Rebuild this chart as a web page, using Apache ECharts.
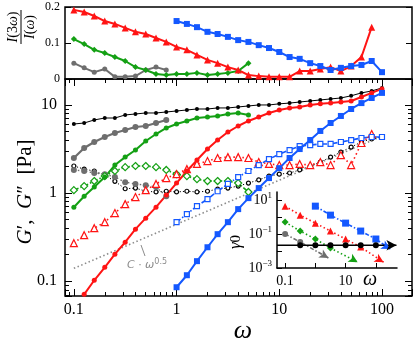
<!DOCTYPE html>
<html>
<head>
<meta charset="utf-8">
<script src="https://cdn.jsdelivr.net/npm/echarts@6/dist/echarts.min.js"></script>
<style>
  html, body { margin: 0; padding: 0; background: #fff; }
  #chart { width: 415px; height: 344px; }
</style>
</head>
<body>
<div id="chart"></div>
<script>
// frequency grid (0.1 decade steps)
const omega = [0.1, 0.126, 0.158, 0.2, 0.251, 0.316, 0.398, 0.501, 0.631, 0.794,
  1, 1.26, 1.58, 2, 2.51, 3.16, 3.98, 5.01, 6.31, 7.94,
  10, 12.6, 15.8, 20, 25.1, 31.6, 39.8, 50.1, 63.1, 79.4, 100];

// G' (storage modulus), solid lines
const blackGp = [6.08, 6.24, 6.76, 7.11, 7.11, 7.70, 7.90, 8.11, 8.11, 8.32, 8.54, 8.77, 9.0, 9.0, 9.25, 9.25,
  9.49, 9.74, 10.0, 10.0, 10.3, 10.5, 10.8, 11.1, 11.4, 11.7, 12.0, 12.7, 13.7, 14.4, 15.6];
const grayGp = [2.5, 3.25, 3.8, 4.33, 4.8, 5.2, 5.62, 5.77, 6.24, 6.76];
const greenGp = [0.69, 0.92, 1.17, 1.52, 2.08, 2.56, 3.08, 3.9, 4.68, 5.48, 6.08, 6.58, 7.11, 7.3, 7.5, 7.9, 8.1, 7.7];
const redGp = [0.0711, 0.1026, 0.144, 0.203, 0.277, 0.39, 0.52, 0.693, 0.95, 1.30, 1.78, 2.37, 3.16, 4.0, 4.93,
  5.77, 6.58, 7.3, 8.11, 8.77, 9.25, 9.49, 10, 10.3, 10.5, 10.8, 11.1, 12.3, 13.7, 15.2];
const blueGp = [0.0855, 0.117, 0.169, 0.243, 0.342, 0.468, 0.658, 0.877, 1.14, 1.48, 1.92, 2.5, 3.16, 4.0, 5.07,
  6.24, 7.5, 9.0, 10.5, 12.0, 13.7];

// G'' (loss modulus), dotted lines
const blackGpp = [2.03, 1.87, 1.78, 1.60, 1.36, 1.12, 1.14, 1.05, 1.03, 1.05, 1.03, 1.05, 1.03, 1.05, 1.11, 1.14,
  1.20, 1.30, 1.41, 1.56, 1.64, 1.69, 1.83, 2.03, 2.25, 2.56, 2.92, 3.33, 3.80, 4.11, 4.33];
const grayGpp = [1.83, 1.78, 1.69, 1.64, 1.52, 1.33, 1.27, 1.23, 1.17, 0.92];
const greenGpp = [1.08, 1.20, 1.37, 1.56, 1.78, 1.97, 2.03, 2.03, 1.97, 1.83, 1.64, 1.56, 1.44, 1.37, 1.37, 1.37, 1.30, 1.03];
const redGpp = [0.270, 0.333, 0.400, 0.468, 0.593, 0.750, 0.901, 1.08, 1.27, 1.48, 1.64, 1.87, 2.14, 2.31, 2.50,
  2.56, 2.56, 2.50, 2.25, 2.14, 2.08, 2.08, 2.14, 2.08, 2.25, 2.08, 2.70, 2.08, 3.70, 4.68];
const blueGpp = [0.468, 0.577, 0.712, 0.855, 1.05, 1.27, 1.52, 1.78, 2.08, 2.43, 2.77, 3.08, 3.42, 3.51, 3.61,
  3.61, 3.80, 4.0, 4.22, 4.33, 4.33];

// reference line C * omega^0.5 (end points)
const refOmega = [0.1, 100];
const refG = [0.14, 4.43];

// top panel: I(3w)/I(w)
const redRatio = [0.192, 0.186, 0.175, 0.161, 0.153, 0.142, 0.131, 0.125, 0.114, 0.103, 0.089, 0.081, 0.067, 0.053,
  0.044, 0.033, 0.025, 0.011, 0.008, 0.006, 0.006, 0.006, 0.022, 0.022, 0.028, 0.033, 0.022, 0.036, 0.061, 0.144];
const greenRatio = [0.111, 0.097, 0.081, 0.072, 0.061, 0.050, 0.033, 0.025, 0.014, 0.011, 0.014, 0.014, 0.017,
  0.011, 0.014, 0.017, 0.022, 0.044];
const grayRatio = [0.044, 0.031, 0.019, 0.028, 0.006, 0.006, 0.008, 0.025, 0.033, 0.025];
const blueRatio = [0.161, 0.153, 0.144, 0.131, 0.125, 0.117, 0.108, 0.103, 0.094, 0.086, 0.075, 0.061, 0.056,
  0.044, 0.036, 0.025, 0.031, 0.036, 0.039, 0.050, 0.019];

// inset: gamma_0 vs omega
const insetOmega = [0.1, 0.316, 1, 3.16, 10, 31.6, 100];
const redGamma = [4.4, 1.3, 0.44, 0.15, 0.051, 0.017];
const redArrow = [180, 0.0022];
const blueGamma = [4.4, 1.3, 0.44, 0.15, 0.051];
const blueArrow = [300, 0.013];
const greenGamma = [0.51, 0.15, 0.051, 0.015];
const greenArrow = [25, 0.0022];
const grayGamma = [0.1, 0.034];
const grayArrow = [2.7, 0.0039];
const blackGamma = [0.022, 0.022, 0.022, 0.022, 0.022, 0.022];
const blackLineEnds = [[0.054, 0.022], [480, 0.022]];

const SERIF = 'Liberation Serif';
const RED = '#ff1414', BLUE = '#1458ff', GREEN = '#14a014', GRAY = '#6e6e6e', REF = '#8c8c8c';

const pts = (xs, ys) => ys.map((y, i) => [xs[i], y]);

function solid(ax, xs, ys, color, symbol, size, width) {
  return {
    type: 'line', xAxisIndex: ax, yAxisIndex: ax, data: pts(xs, ys),
    symbol: symbol, symbolSize: size, showSymbol: true,
    lineStyle: { color: color, width: width }, itemStyle: { color: color }
  };
}
function open(xs, ys, color, symbol, size, dash, width) {
  return {
    type: 'line', xAxisIndex: 1, yAxisIndex: 1, data: pts(xs, ys),
    symbol: symbol, symbolSize: size, showSymbol: true,
    lineStyle: { color: color, width: width || 1.6, type: dash },
    itemStyle: { color: '#fff', borderColor: color, borderWidth: 1.2 }
  };
}
function inset(xs, ys, tip, color, symbol, size, dash) {
  const data = pts(xs, ys);
  data.push({ value: tip, symbol: 'arrow', symbolSize: [7, 9], symbolRotate: -120 });
  return {
    type: 'line', xAxisIndex: 2, yAxisIndex: 2, data: data, clip: false,
    symbol: symbol, symbolSize: size, showSymbol: true,
    lineStyle: { color: color, width: 1.6, type: dash }, itemStyle: { color: color }
  };
}

const tick = { inside: true, length: 7, lineStyle: { color: '#000', width: 1 } };
const minor = { show: true, splitNumber: 9, length: 4, lineStyle: { color: '#000', width: 1 } };
function logAxis(o) {
  return Object.assign({
    type: 'log', logBase: 10, splitLine: { show: false }, minorSplitLine: { show: false },
    axisLine: { show: false }, axisTick: tick, minorTick: minor, axisLabel: { show: false }
  }, o);
}
const mainLabel = { show: true, color: '#000', fontFamily: SERIF, fontSize: 16, showMinLabel: false, showMaxLabel: false };
const expOf = v => Math.round(Math.log10(v));

const chart = echarts.init(document.getElementById('chart'), null, { renderer: 'canvas' });

const option = {
  animation: false,
  backgroundColor: '#fff',
  grid: [
    { left: 65, top: 7, width: 347, height: 72, show: true, borderColor: '#000', borderWidth: 1.5, backgroundColor: 'transparent' },
    { left: 65, top: 79, width: 347, height: 217, show: true, borderColor: '#000', borderWidth: 1.5, backgroundColor: 'transparent' },
    { left: 277, top: 192, width: 120, height: 76 }
  ],
  xAxis: [
    logAxis({ gridIndex: 0, position: 'top', min: 0.082, max: 196 }),
    logAxis({ gridIndex: 1, position: 'bottom', min: 0.082, max: 196, axisLabel: Object.assign({ margin: 6 }, mainLabel) }),
    logAxis({
      gridIndex: 2, position: 'bottom', min: 0.054, max: 500,
      axisLine: { show: true, lineStyle: { color: '#000', width: 1.5 } },
      axisTick: { inside: true, length: 5, lineStyle: { color: '#000' } }, minorTick: { show: false },
      axisLabel: {
        show: true, color: '#000', fontFamily: SERIF, fontSize: 14, margin: 6, showMinLabel: false, showMaxLabel: false,
        formatter: v => (Math.abs(expOf(v)) % 2 === 1 ? String(v) : '')
      }
    })
  ],
  yAxis: [
    {
      type: 'value', gridIndex: 0, position: 'left', min: 0, max: 0.2, interval: 0.1,
      splitLine: { show: false }, axisLine: { show: false },
      axisTick: { inside: true, length: 6, lineStyle: { color: '#000' } },
      axisLabel: { color: '#000', fontFamily: SERIF, fontSize: 12, margin: 5 }
    },
    logAxis({ gridIndex: 1, position: 'left', min: 0.068, max: 19.7, axisLabel: Object.assign({ margin: 8 }, mainLabel) }),
    logAxis({
      gridIndex: 2, position: 'left', min: 0.001, max: 30,
      axisLine: { show: true, lineStyle: { color: '#000', width: 1.5 } },
      axisTick: { inside: true, length: 5, lineStyle: { color: '#000' } }, minorTick: { show: false },
      axisLabel: {
        show: true, color: '#000', fontFamily: SERIF, margin: 5, showMinLabel: true, showMaxLabel: false,
        formatter: v => {
          const e = expOf(v);
          return Math.abs(e) % 2 === 1 ? '{b|10}{s|' + (e < 0 ? '\u2212' : '') + Math.abs(e) + '}' : '';
        },
        rich: {
          b: { fontFamily: SERIF, fontSize: 14, lineHeight: 18 },
          s: { fontFamily: SERIF, fontSize: 9, lineHeight: 10, verticalAlign: 'top' }
        }
      }
    }),
    {
      type: 'value', gridIndex: 0, position: 'right', min: 0, max: 0.2, interval: 0.1,
      splitLine: { show: false }, axisLine: { show: false },
      axisTick: { inside: true, length: 6, lineStyle: { color: '#000' } }, axisLabel: { show: false }
    },
    logAxis({ gridIndex: 1, position: 'right', min: 0.068, max: 19.7 })
  ],
  series: [
    // top panel
    solid(0, omega.slice(0, 10), grayRatio, GRAY, 'circle', 5, 2),
    solid(0, omega.slice(0, 18), greenRatio, GREEN, 'diamond', 6, 2),
    solid(0, omega.slice(0, 30), redRatio, RED, 'triangle', 7, 2),
    solid(0, omega.slice(10, 31), blueRatio, BLUE, 'rect', 6, 2),

    // main panel, reference line
    {
      type: 'line', xAxisIndex: 1, yAxisIndex: 1, data: pts(refOmega, refG), symbol: 'none',
      lineStyle: { color: REF, width: 1.6, type: [1.5, 2.5] }
    },
    // G''
    open(omega, blackGpp, '#000', 'circle', 4, [1.2, 2], 1),
    {
      type: 'line', xAxisIndex: 1, yAxisIndex: 1, data: pts(omega.slice(0, 10), grayGpp),
      symbol: 'circle', symbolSize: 6, lineStyle: { color: GRAY, width: 1.4, type: [1.5, 2.5] }, itemStyle: { color: GRAY }
    },
    open(omega.slice(0, 18), greenGpp, GREEN, 'diamond', 7, [5, 2, 1.5, 2]),
    open(omega.slice(0, 30), redGpp, RED, 'triangle', 7, [1.5, 3]),
    open(omega.slice(10, 31), blueGpp, BLUE, 'rect', 5, [5, 2, 1.5, 2]),
    // G'
    solid(1, omega, blackGp, '#000', 'circle', 4, 1),
    solid(1, omega.slice(0, 10), grayGp, GRAY, 'circle', 6, 2.2),
    solid(1, omega.slice(0, 18), greenGp, GREEN, 'circle', 5, 2),
    solid(1, omega.slice(1, 31), redGp, RED, 'circle', 5, 2),
    solid(1, omega.slice(10, 31), blueGp, BLUE, 'rect', 6, 2),

    // inset
    inset(insetOmega.slice(0, 2), grayGamma, grayArrow, GRAY, 'circle', 6, [4, 2, 1.5, 2]),
    inset(insetOmega.slice(0, 4), greenGamma, greenArrow, GREEN, 'diamond', 7, [1.5, 2.5]),
    inset(insetOmega.slice(0, 6), redGamma, redArrow, RED, 'triangle', 7, [1.5, 2.5]),
    inset(insetOmega.slice(2, 7), blueGamma, blueArrow, BLUE, 'rect', 7, [4, 2, 1.5, 2]),
    {
      type: 'line', xAxisIndex: 2, yAxisIndex: 2, clip: false, symbol: 'circle', symbolSize: 6,
      data: [{ value: blackLineEnds[0], symbol: 'none' }]
        .concat(pts(insetOmega.slice(1, 7), blackGamma))
        .concat([{ value: blackLineEnds[1], symbol: 'arrow', symbolSize: [8, 10], symbolRotate: -90 }]),
      lineStyle: { color: '#000', width: 1.6 }, itemStyle: { color: '#000' }
    }
  ],
  graphic: [
    {
      type: 'text', x: 25, y: 192, rotation: Math.PI / 2,
      style: {
        text: '{i|G}\u2032,  {i|G}\u2033  [Pa]', fill: '#000', fontFamily: SERIF, fontSize: 21,
        align: 'center', verticalAlign: 'middle', textAlign: 'center', textVerticalAlign: 'middle',
        rich: { i: { fontStyle: 'italic', fontFamily: SERIF, fontSize: 21 } }
      }
    },
    {
      type: 'group', x: 21, y: 27, rotation: Math.PI / 2,
      children: [
        {
          type: 'text', style: {
            text: '{i|I}(3{i|\u03c9})', x: 0, y: -8, fill: '#000', fontFamily: SERIF, fontSize: 14,
            align: 'center', verticalAlign: 'middle', textAlign: 'center', textVerticalAlign: 'middle',
            rich: { i: { fontStyle: 'italic', fontFamily: SERIF, fontSize: 14 } }
          }
        },
        { type: 'line', shape: { x1: -17, y1: 0, x2: 17, y2: 0 }, style: { stroke: '#000', lineWidth: 1 } },
        {
          type: 'text', style: {
            text: '{i|I}({i|\u03c9})', x: 0, y: 9, fill: '#000', fontFamily: SERIF, fontSize: 14,
            align: 'center', verticalAlign: 'middle', textAlign: 'center', textVerticalAlign: 'middle',
            rich: { i: { fontStyle: 'italic', fontFamily: SERIF, fontSize: 14 } }
          }
        }
      ]
    },
    {
      type: 'text', x: 243, y: 331,
      style: {
        text: '\u03c9', fill: '#000', fontFamily: SERIF, fontStyle: 'italic', fontSize: 26,
        align: 'center', verticalAlign: 'middle', textAlign: 'center', textVerticalAlign: 'middle'
      }
    },
    { type: 'line', shape: { x1: 141, y1: 245, x2: 145, y2: 256 }, style: { stroke: REF, lineWidth: 1 } },
    {
      type: 'text', x: 147, y: 265,
      style: {
        text: '{i|C} \u00b7 {i|\u03c9}{s|0.5}', fill: REF, fontFamily: 'DejaVu Sans', fontSize: 11,
        align: 'center', verticalAlign: 'middle', textAlign: 'center', textVerticalAlign: 'middle',
        rich: {
          i: { fontStyle: 'italic', fontFamily: 'DejaVu Sans', fontSize: 11, fill: REF, color: REF, lineHeight: 14 },
          s: { fontFamily: 'DejaVu Sans', fontSize: 8, fill: REF, color: REF, lineHeight: 8, verticalAlign: 'top' }
        }
      }
    },
    {
      type: 'text', x: 236, y: 242, rotation: Math.PI / 2,
      style: {
        text: '{i|\u03b3}{s|0}', fill: '#000', fontFamily: SERIF, fontSize: 16,
        align: 'center', verticalAlign: 'middle', textAlign: 'center', textVerticalAlign: 'middle',
        rich: {
          i: { fontStyle: 'italic', fontFamily: SERIF, fontSize: 17, lineHeight: 18 },
          s: { fontFamily: SERIF, fontSize: 15, lineHeight: 18 }
        }
      }
    },
    {
      type: 'text', x: 370, y: 280,
      style: {
        text: '\u03c9', fill: '#000', fontFamily: SERIF, fontStyle: 'italic', fontSize: 20,
        align: 'center', verticalAlign: 'middle', textAlign: 'center', textVerticalAlign: 'middle'
      }
    }
  ]
};
chart.setOption(option);
</script>
</body>
</html>
